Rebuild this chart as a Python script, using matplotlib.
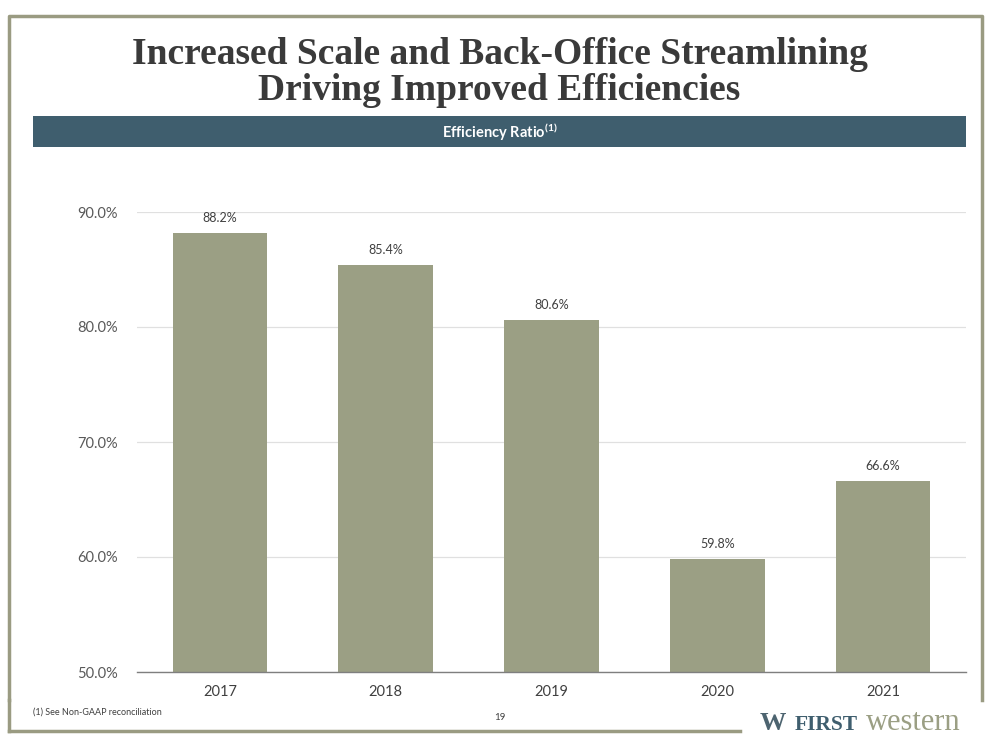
import matplotlib.pyplot as plt
from matplotlib.patches import Rectangle
from matplotlib.lines import Line2D

# data
years = ["2017", "2018", "2019", "2020", "2021"]
efficiency = [88.2, 85.4, 80.6, 59.8, 66.6]
y_ticks = [50, 60, 70, 80, 90]

W, H = 999, 750
bar_color = "#9b9f84"
navy = "#3f5e6e"
frame_color = "#9a9b82"

fig = plt.figure(figsize=(W / 100, H / 100), dpi=100)
fig.patch.set_facecolor("white")

def fx(px):
    return px / W

def fy(py):
    return 1 - py / H

# slide frame (broken at bottom right by the logo)
fig.add_artist(Line2D([fx(9), fx(9), fx(982), fx(982)], [fy(700), fy(16), fy(16), fy(700)],
                      color=frame_color, lw=2.5, transform=fig.transFigure))
fig.add_artist(Line2D([fx(9), fx(740)], [fy(731), fy(731)],
                      color=frame_color, lw=2.5, transform=fig.transFigure))
fig.add_artist(Line2D([fx(9), fx(9)], [fy(700), fy(731)],
                      color=frame_color, lw=2.5, transform=fig.transFigure))

# title
fig.text(0.5, fy(55), "Increased Scale and Back-Office Streamlining",
         ha="center", va="center", fontsize=27, fontweight="bold",
         family="Liberation Serif", color="#3a3a3a")
fig.text(0.5, fy(91), "Driving Improved Efficiencies",
         ha="center", va="center", fontsize=27, fontweight="bold",
         family="Liberation Serif", color="#3a3a3a")

# banner
fig.add_artist(Rectangle((fx(33), fy(147)), fx(966) - fx(33), (147 - 116) / H,
                         facecolor=navy, edgecolor="none", transform=fig.transFigure))
fig.text(0.5, fy(132), r"Efficiency Ratio$^{\mathregular{(1)}}$", ha="center", va="center",
         fontsize=10.5, fontweight="bold", family="Lato", color="white")

# chart
ax = fig.add_axes([fx(137), fy(672), fx(966) - fx(137), (672 - 212) / H])
x = range(len(years))
bars = ax.bar(x, efficiency, width=0.57, color=bar_color, zorder=2)
for xi, v in zip(x, efficiency):
    ax.text(xi, v + 0.8, f"{v:.1f}%", ha="center", va="bottom",
            fontsize=9, family="Lato", color="#404040")

ax.set_ylim(50, 90)
ax.set_xlim(-0.5, len(years) - 0.5)
ax.set_yticks(y_ticks)
ax.set_yticklabels([f"{t:.1f}%" for t in y_ticks], family="Lato", fontsize=10.5, color="#595959")
ax.set_xticks(list(x))
ax.set_xticklabels(years, family="Lato", fontsize=10.5, color="#404040")
ax.tick_params(axis="both", length=0)
ax.tick_params(axis="y", pad=14)
ax.tick_params(axis="x", pad=9)
ax.yaxis.grid(True, color="#e0e0e0", lw=0.9, zorder=0)
ax.set_axisbelow(True)
for s in ["top", "right", "left"]:
    ax.spines[s].set_visible(False)
ax.spines["bottom"].set_color("#7f7f7f")
ax.spines["bottom"].set_linewidth(1.0)
ax.spines["bottom"].set_zorder(3)

# footer
fig.text(fx(33), fy(712), "(1) See Non-GAAP reconciliation", ha="left", va="center",
         fontsize=6.5, family="Lato", color="#404040")
fig.text(fx(500), fy(718), "19", ha="center", va="center",
         fontsize=7, family="Lato", color="#404040")

# logo
fig.text(fx(760), fy(724), "W", ha="left", va="center", fontsize=19, fontweight="bold",
         family="Liberation Serif", color="#4d6470")
fig.text(fx(795), fy(725), "FIRST", ha="left", va="center", fontsize=15.5, fontweight="bold",
         family="Liberation Serif", color=navy)
fig.text(fx(866), fy(723), "western", ha="left", va="center", fontsize=22,
         family="Liberation Serif", color=bar_color)

fig.savefig("out.png", dpi=100)
